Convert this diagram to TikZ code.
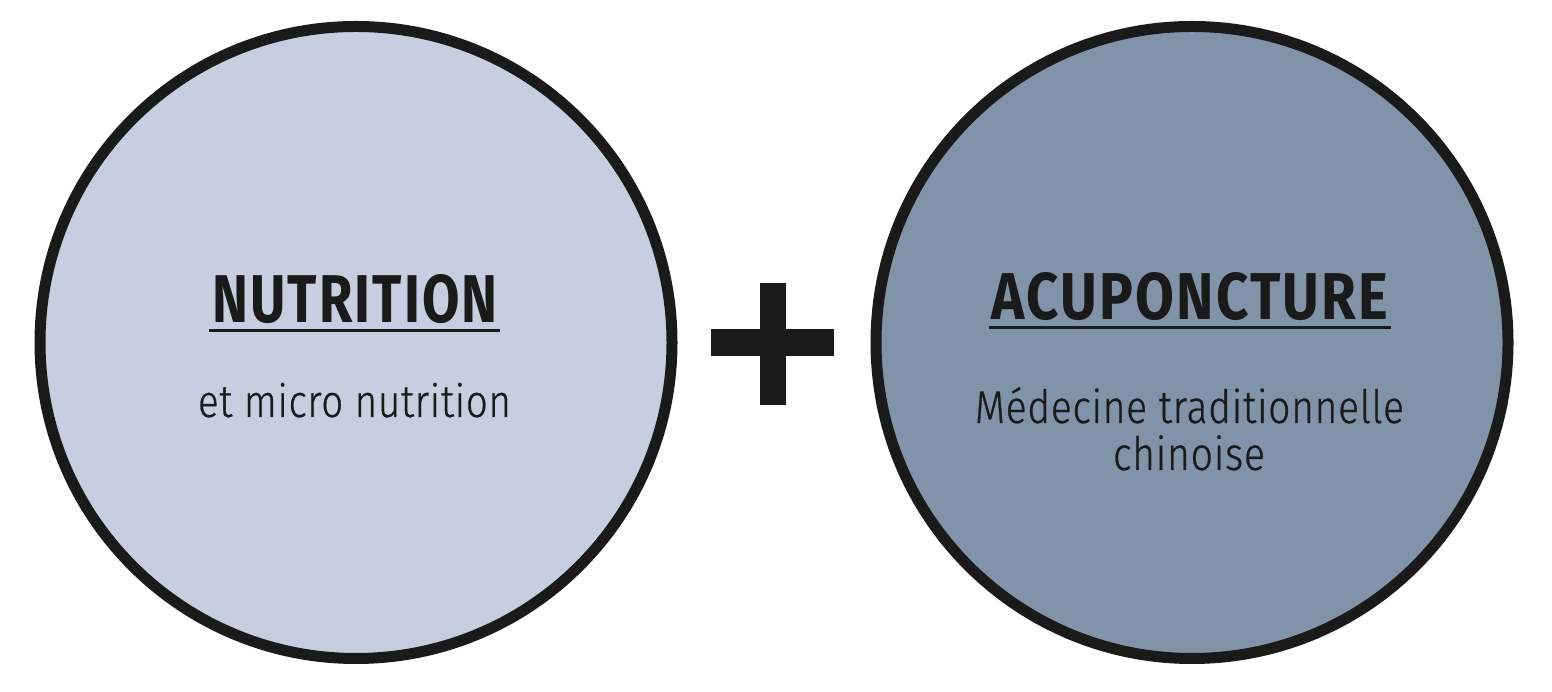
\documentclass[tikz,border=0pt]{standalone}
\usepackage{fontspec}
\usepackage{graphicx}
\setmainfont{Fira Sans}
\newfontfamily\headf{Fira Sans}[UprightFont=*, BoldFont=* Bold, FakeStretch=0.78, LetterSpace=3]
\newfontfamily\lightf{Fira Sans Light}[FakeStretch=0.85, LetterSpace=1.5, FakeBold=0.6]
\definecolor{ink}{HTML}{1A1A1A}
\definecolor{leftfill}{HTML}{C8CEDF}
\definecolor{rightfill}{HTML}{8093A8}
\tikzset{
  bubble/.style={circle, draw=ink, line width=11pt, minimum size=632pt, inner sep=0pt},
  bar/.style={fill=ink, draw=none},
  rule/.style={draw=ink, line width=3pt},
  head/.style={anchor=base, inner sep=0pt, text=ink},
  sub/.style={anchor=base, inner sep=0pt, text=ink}
}
\begin{document}
\begin{tikzpicture}[x=1pt,y=1pt]
\useasboundingbox[fill=white] (0,0) rectangle (1552,692);
\node[bubble, fill=leftfill] (left) at (356,349.5) {};
\node[bubble, fill=rightfill] (right) at (1192,349.5) {};
% plus sign
\fill[bar] (760,287) rectangle (786,409);
\fill[bar] (711,336) rectangle (834,363);
% headings
\node[head] (nut) at (355,369) {\resizebox{285pt}{48pt}{\headf\bfseries NUTRITION}};
\draw[rule] (209,361) -- (500,361);
\node[head] (acu) at (1190,372) {\resizebox{396pt}{47pt}{\headf\bfseries ACUPONCTURE}};
\draw[rule] (989,364) -- (1391,364);
% sub texts
\node[sub] (nutsub) at (354.5,275) {\resizebox{313pt}{!}{\lightf et micro nutrition}};
\node[sub] (acusub1) at (1189.5,269) {\resizebox{429pt}{!}{\lightf Médecine traditionnelle}};
\node[sub] (acusub2) at (1189,222) {\resizebox{152pt}{!}{\lightf chinoise}};
\end{tikzpicture}
\end{document}
